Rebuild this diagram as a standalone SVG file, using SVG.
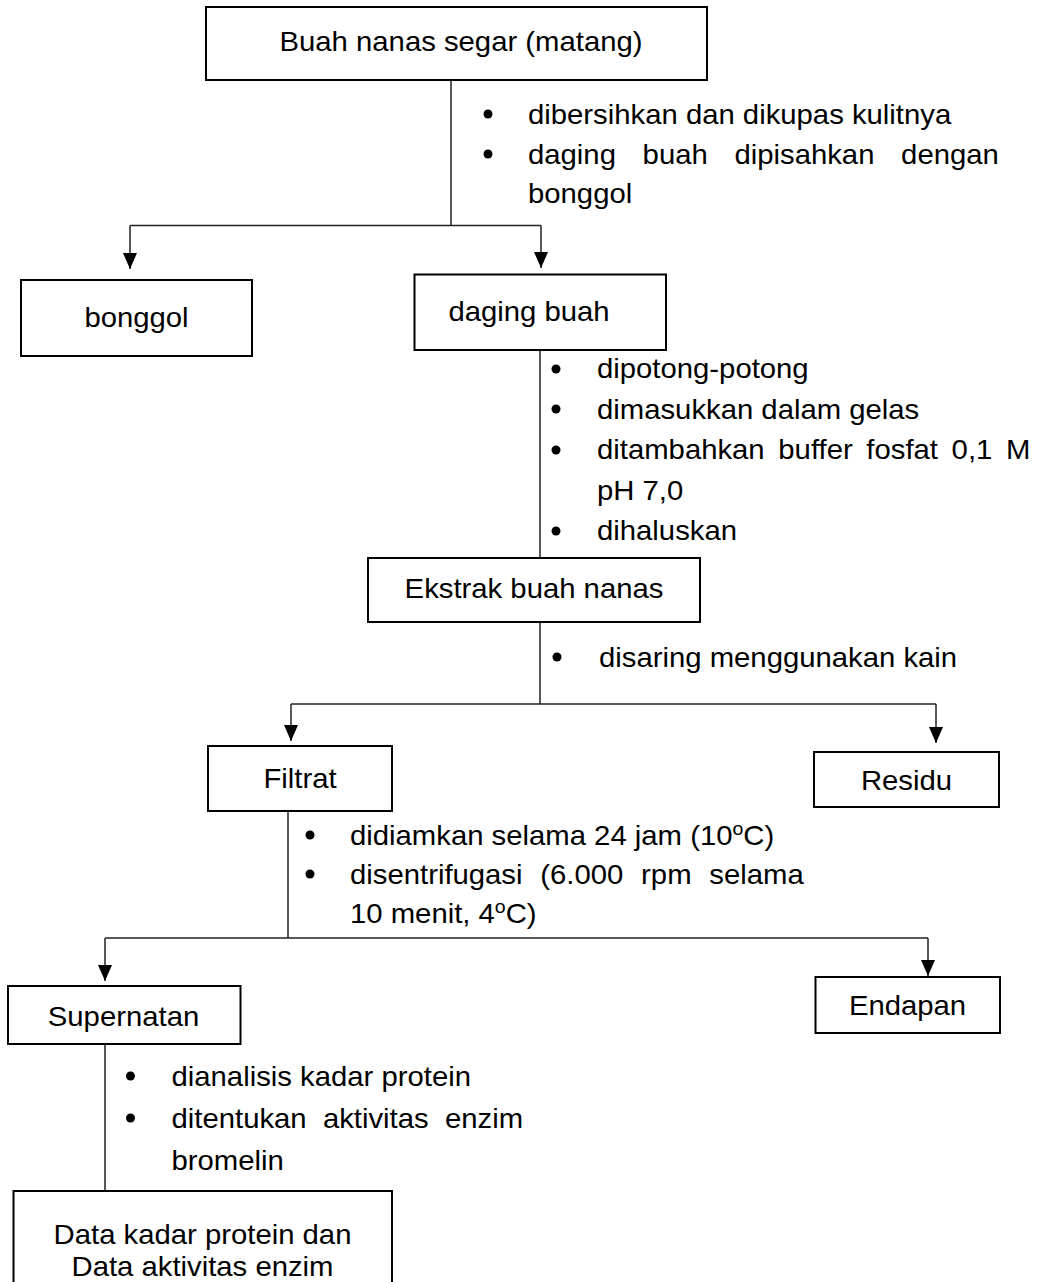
<svg xmlns="http://www.w3.org/2000/svg" width="1041" height="1282" viewBox="0 0 1041 1282">
  <style>
    .box { fill: #fff; stroke: #000; stroke-width: 2; }
    .ln { fill: none; stroke: #222; stroke-width: 1.5; }
    .t { font-family: "Liberation Sans", Arial, sans-serif; font-size: 27px; fill: #000; }
    .c { text-anchor: middle; }
    .dot { fill: #000; }
  </style>
  <defs>
    <!-- filled arrowhead, tip at the end of the line -->
    <marker id="arr" viewBox="0 0 16 14" refX="16" refY="7" markerWidth="16" markerHeight="14" markerUnits="userSpaceOnUse" orient="auto">
      <path d="M0,0 L16,7 L0,14 Z" fill="#000"/>
    </marker>
  </defs>

  <rect width="1041" height="1282" fill="#fff"/>

  <!-- connectors -->
  <g id="connectors">
    <line class="ln" x1="451" y1="80" x2="451" y2="226"/>
    <line class="ln" x1="130" y1="225.5" x2="541" y2="225.5"/>
    <line class="ln" x1="130" y1="225.5" x2="130" y2="269" marker-end="url(#arr)"/>
    <line class="ln" x1="541" y1="225.5" x2="541" y2="268" marker-end="url(#arr)"/>

    <line class="ln" x1="540" y1="350" x2="540" y2="558"/>
    <line class="ln" x1="540" y1="622" x2="540" y2="704"/>
    <line class="ln" x1="291" y1="704" x2="936" y2="704"/>
    <line class="ln" x1="291" y1="704" x2="291" y2="741" marker-end="url(#arr)"/>
    <line class="ln" x1="936" y1="704" x2="936" y2="743" marker-end="url(#arr)"/>

    <line class="ln" x1="288" y1="811" x2="288" y2="938"/>
    <line class="ln" x1="105" y1="938" x2="928" y2="938"/>
    <line class="ln" x1="105" y1="938" x2="105" y2="981" marker-end="url(#arr)"/>
    <line class="ln" x1="928" y1="938" x2="928" y2="976" marker-end="url(#arr)"/>

    <line class="ln" x1="105" y1="1044" x2="105" y2="1191"/>
  </g>

  <!-- process notes -->
  <g id="step-kupas">
    <circle class="dot" cx="488" cy="114" r="4.5"/>
    <circle class="dot" cx="488" cy="154" r="4.5"/>
    <text class="t" transform="translate(528 124) scale(1.085 1)">dibersihkan dan dikupas kulitnya</text>
    <text class="t" transform="translate(528 164) scale(1.085 1)" word-spacing="17.1">daging buah dipisahkan dengan</text>
    <text class="t" transform="translate(528 203) scale(1.085 1)">bonggol</text>
  </g>

  <g id="step-haluskan">
    <circle class="dot" cx="556" cy="369" r="4.5"/>
    <circle class="dot" cx="556" cy="409" r="4.5"/>
    <circle class="dot" cx="556" cy="450" r="4.5"/>
    <circle class="dot" cx="556" cy="531" r="4.5"/>
    <text class="t" transform="translate(597 378) scale(1.085 1)">dipotong-potong</text>
    <text class="t" transform="translate(597 418.5) scale(1.085 1)">dimasukkan dalam gelas</text>
    <text class="t" transform="translate(597 459) scale(1.085 1)" word-spacing="5.1">ditambahkan buffer fosfat 0,1 M</text>
    <text class="t" transform="translate(597 499.5) scale(1.085 1)">pH 7,0</text>
    <text class="t" transform="translate(597 540) scale(1.085 1)">dihaluskan</text>
  </g>

  <g id="step-saring">
    <circle class="dot" cx="557" cy="657" r="4.5"/>
    <text class="t" transform="translate(599 667) scale(1.085 1)">disaring menggunakan kain</text>
  </g>

  <g id="step-sentrifugasi">
    <circle class="dot" cx="310" cy="835" r="4.5"/>
    <circle class="dot" cx="310" cy="874" r="4.5"/>
    <text class="t" transform="translate(350 845) scale(1.085 1)">didiamkan selama 24 jam (10<tspan font-size="18" dy="-10">o</tspan><tspan dy="10">C)</tspan></text>
    <text class="t" transform="translate(350 884) scale(1.085 1)" word-spacing="8.9">disentrifugasi (6.000 rpm selama</text>
    <text class="t" transform="translate(350 923) scale(1.085 1)">10 menit, 4<tspan font-size="18" dy="-10">o</tspan><tspan dy="10">C)</tspan></text>
  </g>

  <g id="step-analisis">
    <circle class="dot" cx="130.5" cy="1076" r="4.5"/>
    <circle class="dot" cx="130.5" cy="1118" r="4.5"/>
    <text class="t" transform="translate(171.5 1086) scale(1.085 1)">dianalisis kadar protein</text>
    <text class="t" transform="translate(171.5 1128) scale(1.085 1)" word-spacing="7.5">ditentukan aktivitas enzim</text>
    <text class="t" transform="translate(171.5 1170) scale(1.085 1)">bromelin</text>
  </g>

  <!-- nodes -->
  <g id="buah-nanas">
    <rect class="box" x="206" y="7" width="501" height="73"/>
    <text class="t c" transform="translate(461 51) scale(1.085 1)">Buah nanas segar (matang)</text>
  </g>

  <g id="bonggol">
    <rect class="box" x="21" y="280" width="231" height="76"/>
    <text class="t c" transform="translate(136.5 327) scale(1.085 1)">bonggol</text>
  </g>

  <g id="daging-buah">
    <rect class="box" x="414.5" y="274.5" width="251.5" height="75.5"/>
    <text class="t c" transform="translate(529 321) scale(1.085 1)">daging buah</text>
  </g>

  <g id="ekstrak">
    <rect class="box" x="368" y="558" width="332" height="64"/>
    <text class="t c" transform="translate(534 598) scale(1.085 1)">Ekstrak buah nanas</text>
  </g>

  <g id="filtrat">
    <rect class="box" x="208" y="746" width="184" height="65"/>
    <text class="t c" transform="translate(300 788) scale(1.085 1)">Filtrat</text>
  </g>

  <g id="residu">
    <rect class="box" x="814" y="752" width="185" height="55"/>
    <text class="t c" transform="translate(906.5 790) scale(1.085 1)">Residu</text>
  </g>

  <g id="supernatan">
    <rect class="box" x="8" y="986" width="232.5" height="58"/>
    <text class="t c" transform="translate(123.5 1026) scale(1.085 1)">Supernatan</text>
  </g>

  <g id="endapan">
    <rect class="box" x="815.5" y="977" width="184.5" height="56"/>
    <text class="t c" transform="translate(907.5 1015) scale(1.085 1)">Endapan</text>
  </g>

  <g id="data-hasil">
    <rect class="box" x="13.5" y="1191" width="378.5" height="120"/>
    <text class="t c" transform="translate(202.5 1244) scale(1.085 1)">Data kadar protein dan</text>
    <text class="t c" transform="translate(202.5 1276) scale(1.085 1)">Data aktivitas enzim</text>
  </g>
</svg>
